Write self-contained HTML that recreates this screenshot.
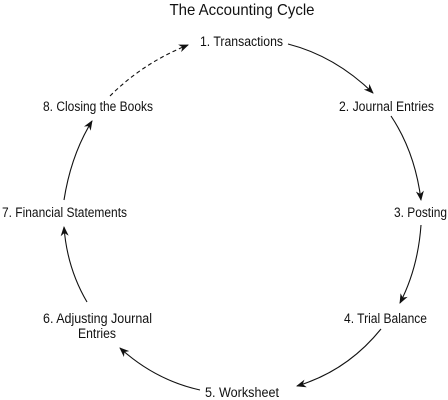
<!DOCTYPE html>
<html><head><style>
html,body{margin:0;padding:0;background:#fff;}
svg{display:block;}
text{font-family:"Liberation Sans Narrow","Liberation Sans",sans-serif;fill:#111;}
</style></head><body>
<svg width="448" height="400" viewBox="0 0 448 400" xmlns="http://www.w3.org/2000/svg">
<defs>
<marker id="a" markerWidth="10" markerHeight="8" refX="9" refY="4" orient="auto" markerUnits="userSpaceOnUse">
<path d="M0,0 L10,4 L0,8 L3,4 Z" fill="#111"/>
</marker>
</defs>
<text x="242" y="15" font-size="16" text-anchor="middle" textLength="145" lengthAdjust="spacingAndGlyphs">The Accounting Cycle</text>
<g font-size="13.5">
<text x="200" y="46" textLength="83" lengthAdjust="spacingAndGlyphs">1. Transactions</text>
<text x="339" y="111" textLength="95" lengthAdjust="spacingAndGlyphs">2. Journal Entries</text>
<text x="394" y="217" textLength="53" lengthAdjust="spacingAndGlyphs">3. Posting</text>
<text x="344" y="323" textLength="83" lengthAdjust="spacingAndGlyphs">4. Trial Balance</text>
<text x="205" y="397" textLength="74" lengthAdjust="spacingAndGlyphs">5. Worksheet</text>
<text x="43" y="323" textLength="109" lengthAdjust="spacingAndGlyphs">6. Adjusting Journal</text>
<text x="97" y="338" text-anchor="middle" textLength="38" lengthAdjust="spacingAndGlyphs">Entries</text>
<text x="2" y="217" textLength="125" lengthAdjust="spacingAndGlyphs">7. Financial Statements</text>
<text x="43" y="111" textLength="110" lengthAdjust="spacingAndGlyphs">8. Closing the Books</text>
</g>
<g fill="none" stroke="#111" stroke-width="1.1">
<path d="M288,44 Q335,56 373,93" marker-end="url(#a)"/>
<path d="M391,116 Q415,152 421,200" marker-end="url(#a)"/>
<path d="M421,225 Q418,268 400,303" marker-end="url(#a)"/>
<path d="M381,329 Q347,371 297,386" marker-end="url(#a)"/>
<path d="M200,390 Q155,380 120,348" marker-end="url(#a)"/>
<path d="M87,302 Q67,268 64,227" marker-end="url(#a)"/>
<path d="M64,200 Q71,155 92,121" marker-end="url(#a)"/>
<path d="M110,96 Q143,63 188,45" stroke-dasharray="4,3" marker-end="url(#a)"/>
</g>
</svg>
</body></html>
